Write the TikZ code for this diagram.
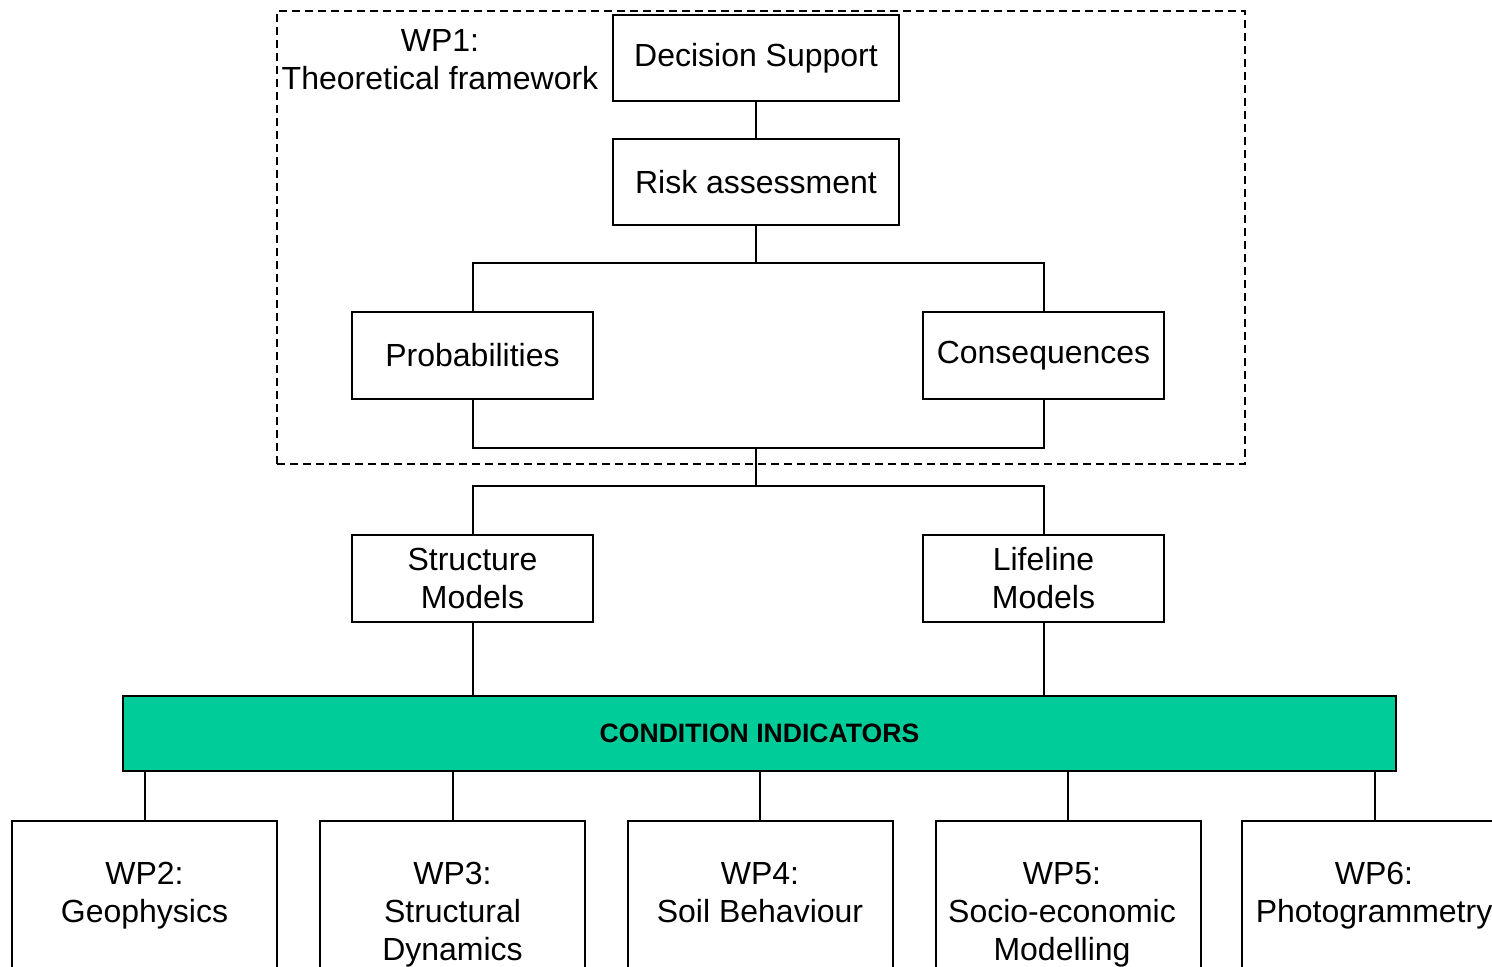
\documentclass[tikz,border=0pt]{standalone}
\usepackage{fontspec}
\setmainfont{Liberation Sans}
\definecolor{barteal}{HTML}{00CC99}
\begin{document}
\begin{tikzpicture}[x=0.5pt,y=-0.5pt,
  box/.style={draw=black, line width=1pt, fill=white, inner sep=0pt, align=center,
    font=\fontsize{16}{19}\selectfont},
  midbox/.style={box, minimum width=143pt, minimum height=43pt},
  sidebox/.style={box, minimum width=120.5pt, minimum height=43.5pt},
  wpbox/.style={box, minimum width=132.5pt, minimum height=89.5pt},
  wptext/.style={anchor=north, inner sep=0pt, align=center, font=\fontsize{16}{19}\selectfont},
  conn/.style={line width=1pt}]
\useasboundingbox (0,0) rectangle (1492,966);
\clip (0,0) rectangle (1492,966);
% WP1 frame
\node[draw, dashed, dash pattern=on 4pt off 2.5pt, line width=0.8pt, minimum width=484pt, minimum height=226.5pt, inner sep=0pt] (wp1) at (761,237.5) {};
\node[wptext] (wp1t) at (440,29) {WP1:\\Theoretical framework};
% top chain
\node[midbox] (dec) at (756,58) {Decision Support};
\node[midbox] (risk) at (756,182) {Risk assessment};
\node[sidebox] (prob) at (472.5,355.5) {Probabilities};
\node[sidebox] (cons) at (1043.5,355.5) {Consequences};
\node[sidebox] (struct) at (472.5,578.5) {Structure\\Models};
\node[sidebox] (life) at (1043.5,578.5) {Lifeline\\Models};
\node[draw=black, line width=1pt, fill=barteal, minimum width=636.5pt, minimum height=37.5pt, inner sep=0pt,
  font=\fontsize{13.3}{16}\selectfont\bfseries] (bar) at (759.5,733.5) {CONDITION INDICATORS};
% bottom boxes
\node[wpbox] (wp2) at (144.5,910.5) {};
\node[wpbox] (wp3) at (452.5,910.5) {};
\node[wpbox] (wp4) at (760,910.5) {};
\node[wpbox] (wp5) at (1068,910.5) {};
\node[wpbox] (wp6) at (1374.5,910.5) {};
\node[wptext] (wp2t) at (144.5,862) {WP2:\\Geophysics};
\node[wptext] (wp3t) at (452.5,862) {WP3:\\Structural\\Dynamics};
\node[wptext] (wp4t) at (760,862) {WP4:\\Soil Behaviour};
\node[wptext] (wp5t) at (1062,862) {WP5:\\Socio-economic\\Modelling};
\node[wptext] (wp6t) at (1374,862) {WP6:\\Photogrammetry};
% junction coordinates
\coordinate (j1) at (756,263);
\coordinate (j2) at (756,448);
\coordinate (j3) at (756,486);
% connectors
\draw[conn] (dec.south) -- (risk.north);
\draw[conn] (risk.south) -- (j1);
\draw[conn] (prob.north) |- (j1) -| (cons.north);
\draw[conn] (prob.south) |- (j2) -| (cons.south);
\draw[conn] (j2) -- (j3);
\draw[conn] (struct.north) |- (j3) -| (life.north);
\draw[conn] (struct.south) -- (struct.south |- bar.north);
\draw[conn] (life.south) -- (life.south |- bar.north);
\foreach \w in {wp2,wp3,wp4,wp5,wp6}
  \draw[conn] (\w.north |- bar.south) -- (\w.north);
\end{tikzpicture}
\end{document}
